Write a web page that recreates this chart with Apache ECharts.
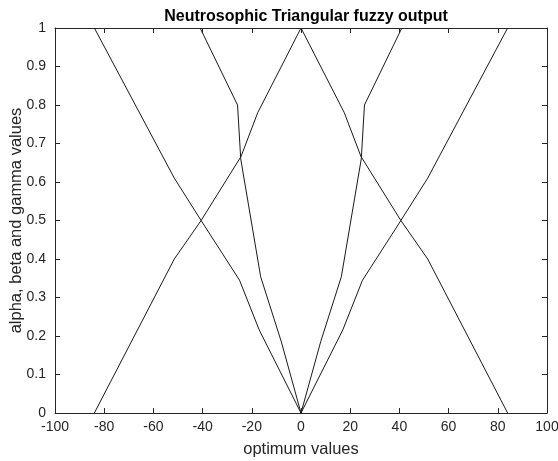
<!DOCTYPE html>
<html>
<head>
<meta charset="utf-8">
<script src="https://cdn.jsdelivr.net/npm/echarts@6/dist/echarts.min.js"></script>
<style>
  html, body { margin: 0; padding: 0; background: #fff; }
  #chart { width: 558px; height: 461px; }
</style>
</head>
<body>
<div id="chart"></div>
<script>
// three fuzzy membership curves
const truthX = [-84, -51.5, -40.6, -24.4, -17.6, 0, 17.6, 24.4, 40.6, 51.5, 84]
const truthY = [0, 0.4, 0.5, 0.666, 0.78, 1, 0.78, 0.666, 0.5, 0.4, 0]

const indetX = [-84, -51.5, -40.6, -25, -17, 0, 17, 25, 40.6, 51.5, 84]
const indetY = [1, 0.61, 0.5, 0.345, 0.216, 0, 0.216, 0.345, 0.5, 0.61, 1]

const falsX = [-41, -25.8, -24.5, -16.4, -8, 0, 8, 16.4, 24.5, 25.8, 41]
const falsY = [1, 0.8, 0.66, 0.354, 0.185, 0, 0.185, 0.354, 0.66, 0.8, 1]

const xTicks = { min: -100, max: 100, interval: 20 }
const yTicks = { min: 0, max: 1, interval: 0.1 }

const font = 'Liberation Sans, Arial, Helvetica, sans-serif'
const axisColor = '#262626'

function zip(xs, ys) { return xs.map((x, i) => [x, ys[i]]) }

function lineSeries(name, xs, ys) {
  return {
    name,
    type: 'line',
    data: zip(xs, ys),
    showSymbol: false,
    silent: true,
    lineStyle: { color: '#1a1a1a', width: 1 },
    animation: false
  }
}

const baseAxis = {
  type: 'value',
  axisLine: { show: true, onZero: false, lineStyle: { color: axisColor, width: 1 } },
  axisTick: { show: true, inside: true, length: 5, lineStyle: { color: axisColor } },
  splitLine: { show: false }
}

const chart = echarts.init(document.getElementById('chart'))
chart.setOption({
  animation: false,
  title: {
    text: 'Neutrosophic Triangular fuzzy output',
    left: 301, top: 4, textAlign: 'center',
    textStyle: { fontFamily: font, fontSize: 16, fontWeight: 'bold', color: '#000' }
  },
  grid: { left: 55, right: 11, top: 28, bottom: 48, containLabel: false, outerBoundsMode: 'none' },
  xAxis: [
    Object.assign({}, baseAxis, xTicks, {
      position: 'bottom',
      name: 'optimum values', nameLocation: 'middle', nameGap: 28, nameMoveOverlap: false,
      nameTextStyle: { fontFamily: font, fontSize: 16.5, color: axisColor },
      axisLabel: { fontFamily: font, fontSize: 14, color: axisColor, margin: 7 }
    }),
    Object.assign({}, baseAxis, xTicks, { position: 'top', axisLabel: { show: false } })
  ],
  yAxis: [
    Object.assign({}, baseAxis, yTicks, {
      position: 'left',
      name: 'alpha, beta and gamma values', nameLocation: 'middle', nameGap: 30, nameMoveOverlap: false,
      nameTextStyle: { fontFamily: font, fontSize: 16.5, color: axisColor },
      axisLabel: { fontFamily: font, fontSize: 14, color: axisColor, margin: 9 }
    }),
    Object.assign({}, baseAxis, yTicks, { position: 'right', axisLabel: { show: false } })
  ],
  series: [
    lineSeries('truth', truthX, truthY),
    lineSeries('indeterminacy', indetX, indetY),
    lineSeries('falsity', falsX, falsY)
  ]
})
</script>
</body>
</html>
